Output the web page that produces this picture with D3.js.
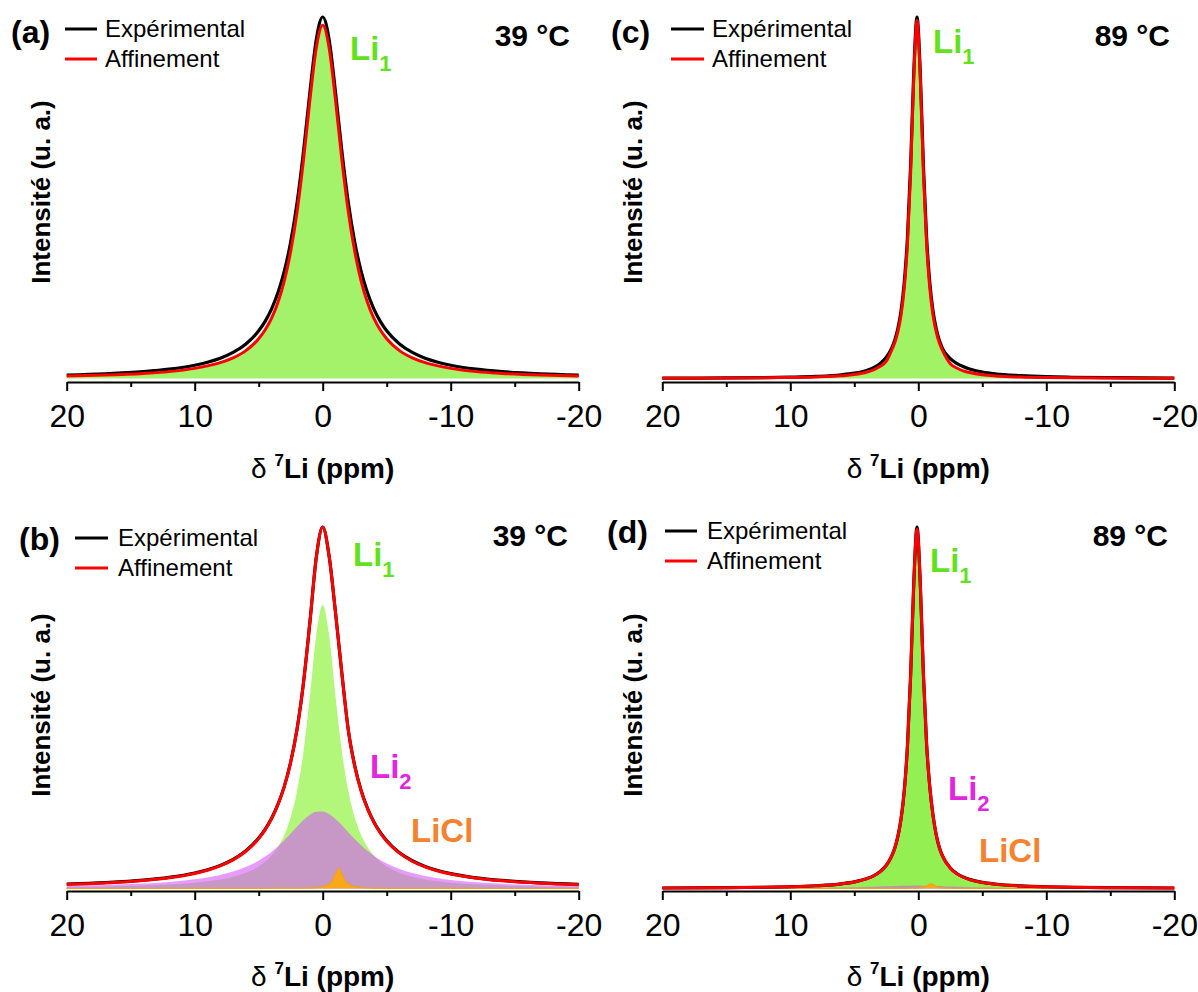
<!DOCTYPE html>
<html><head><meta charset="utf-8">
<script src="https://cdn.jsdelivr.net/npm/d3@7"></script>
<style>
body{margin:0;background:#fff}
svg{display:block}
text{font-family:"Liberation Sans",Arial,Helvetica,sans-serif}
</style>
</head><body>
<svg id="chart" width="1198" height="992"></svg>
<script>
// ---------- data (ppm, normalised intensity) ----------
const xTicks = [20, 10, 0, -10, -20];
const xMinorTicks = [15, 5, -5, -15];
const legendLabels = ["Expérimental", "Affinement"];
const panelLetters = ["(a)", "(b)", "(c)", "(d)"];
const temperatures = ["39 °C", "39 °C", "89 °C", "89 °C"];

// grid for the broad 39 °C spectra
const gridWide = [20,17,14,12,10,9,8,7,6,5,4.5,4,3.5,3,2.5,2,1.5,1,0.5,0,-0.5,-1,-1.5,-2,-2.5,-3,-3.5,-4,-4.5,-5,-6,-7,-8,-9,-10,-12,-14,-17,-20];
// grid for the narrow 89 °C spectra
const gridNarrow = [20,15,12,10,8,6,5,4,3.5,3,2.5,2.1,1.85,1.6,1.35,1.1,0.85,0.6,0.35,0.1,-0.15,-0.4,-0.65,-0.9,-1.15,-1.4,-1.65,-1.9,-2.5,-3,-3.5,-4,-5,-6,-8,-10,-12,-15,-20];
// grid for the LiCl line
const gridLiCl = [20,10,5,2,1,0.5,0,-0.25,-0.5,-0.75,-1,-1.25,-1.5,-1.75,-2,-2.25,-2.5,-3,-4,-6,-10,-20];

// (a) 39 °C, one component
const aExp = [0.0094,0.0130,0.0190,0.0257,0.0366,0.0449,0.056,0.072,0.0955,0.132,0.158,0.192,0.237,0.297,0.378,0.487,0.628,0.792,0.938,1.0,0.938,0.792,0.628,0.487,0.378,0.297,0.237,0.192,0.158,0.132,0.0955,0.072,0.056,0.0449,0.0366,0.0257,0.019,0.013,0.0094];
const aFit = [0.007,0.0095,0.014,0.019,0.028,0.035,0.044,0.057,0.077,0.11,0.134,0.166,0.21,0.27,0.352,0.462,0.605,0.77,0.915,0.977,0.915,0.77,0.605,0.462,0.352,0.27,0.21,0.166,0.134,0.11,0.077,0.057,0.044,0.035,0.028,0.019,0.014,0.0095,0.007];

// (b) 39 °C, three components
const bExp = [0.0125,0.0165,0.0232,0.0308,0.0430,0.0520,0.0640,0.0805,0.1045,0.1395,0.1635,0.1935,0.2325,0.2825,0.3500,0.4420,0.5696,0.7366,0.9163,1.0,0.9196,0.7639,0.5943,0.4385,0.3400,0.2715,0.2220,0.1840,0.1550,0.1320,0.0990,0.0768,0.0610,0.0496,0.0412,0.0296,0.0224,0.0158,0.0118];
const bFit = [0.0110,0.0151,0.0219,0.0296,0.0417,0.0506,0.0626,0.0792,0.1030,0.1380,0.1622,0.1925,0.2317,0.2818,0.3497,0.4420,0.5696,0.7366,0.9163,1.0,0.9196,0.7639,0.5943,0.4382,0.3392,0.2704,0.2208,0.1828,0.1536,0.1307,0.0977,0.0754,0.0597,0.0483,0.0399,0.0284,0.0212,0.0147,0.0107];
const bLi1 = [0.0041,0.0057,0.0083,0.0113,0.0161,0.0198,0.0249,0.0323,0.0433,0.0608,0.0737,0.091,0.115,0.148,0.197,0.270,0.379,0.531,0.701,0.784,0.701,0.531,0.379,0.270,0.197,0.148,0.115,0.091,0.0737,0.0608,0.0433,0.0323,0.0249,0.0198,0.0161,0.0113,0.0083,0.0057,0.0041];
const bLi2 = [0.0069,0.0094,0.0136,0.0182,0.0255,0.0307,0.0376,0.0468,0.0595,0.0770,0.0882,0.1012,0.1163,0.1333,0.1520,0.1712,0.1894,0.2039,0.2125,0.2133,0.2062,0.1926,0.1750,0.1558,0.1370,0.1196,0.1041,0.0906,0.0791,0.0693,0.0540,0.0428,0.0346,0.0284,0.0237,0.0171,0.0129,0.0090,0.0066];
const bLiCl = [0,0.0001,0.0002,0.0008,0.0017,0.0028,0.0052,0.0077,0.0124,0.0219,0.0403,0.056,0.0403,0.0219,0.0124,0.0077,0.0052,0.0028,0.0012,0.0004,0.0001,0];

// (c) 89 °C, one component
const cExp = [0.0009,0.0016,0.0025,0.0037,0.0057,0.0102,0.0148,0.0231,0.0302,0.0410,0.0588,0.0826,0.105,0.138,0.187,0.265,0.390,0.590,0.852,1.0,0.852,0.590,0.390,0.265,0.187,0.138,0.105,0.0826,0.055,0.042,0.033,0.026,0.018,0.013,0.008,0.005,0.0035,0.0022,0.0012];
const cFit = [0.0007,0.0012,0.0018,0.0027,0.0042,0.0075,0.011,0.018,0.024,0.033,0.048,0.0768,0.098,0.129,0.175,0.249,0.3705,0.568,0.835,0.99,0.835,0.568,0.3705,0.249,0.175,0.129,0.098,0.0768,0.041,0.029,0.021,0.0165,0.0105,0.0072,0.0041,0.0026,0.0018,0.0012,0.0007];

// (d) 89 °C, three components
const dExp = [0.0014,0.0023,0.0035,0.0049,0.0076,0.0130,0.0183,0.0274,0.0349,0.0463,0.0644,0.0884,0.1104,0.1437,0.1920,0.2692,0.3925,0.5898,0.849,1.0,0.849,0.5923,0.3984,0.2806,0.2025,0.1488,0.1128,0.0898,0.0565,0.0414,0.0316,0.0252,0.0171,0.0125,0.0073,0.0049,0.0035,0.0023,0.0014];
const dFit = [0.0012,0.0021,0.0033,0.0047,0.0073,0.0127,0.0180,0.0271,0.0346,0.0460,0.0641,0.0881,0.1101,0.1434,0.1918,0.2690,0.3923,0.5896,0.848,0.994,0.8488,0.5921,0.3982,0.2804,0.2022,0.1485,0.1125,0.0894,0.0560,0.0409,0.0311,0.0247,0.0166,0.0120,0.0069,0.0046,0.0032,0.0021,0.0012];
const dLi1 = [0.0009,0.0016,0.0025,0.0036,0.0056,0.0100,0.0146,0.0228,0.0297,0.0404,0.0579,0.0814,0.103,0.136,0.184,0.261,0.384,0.581,0.839,0.985,0.839,0.581,0.384,0.261,0.184,0.136,0.103,0.0814,0.0498,0.0356,0.0266,0.0207,0.0135,0.0095,0.0054,0.0035,0.0024,0.0016,0.0009];
const dLi2 = [0.0003,0.0005,0.0008,0.0011,0.0017,0.0026,0.0033,0.0042,0.0048,0.0054,0.0060,0.0065,0.0068,0.0071,0.0074,0.0076,0.0078,0.0079,0.0080,0.0080,0.0079,0.0078,0.0077,0.0074,0.0072,0.0069,0.0066,0.0063,0.0055,0.0049,0.0043,0.0038,0.0030,0.0024,0.0015,0.0011,0.0008,0.0005,0.0003];
const dLiCl = [0,0,0.0001,0.0002,0.0004,0.0007,0.0014,0.0023,0.0043,0.0087,0.013,0.0087,0.0043,0.0023,0.0014,0.0009,0.0007,0.0004,0.0002,0.0001,0,0];

// ---------- drawing ----------
const svg = d3.select("#chart");
const FONT = '"Liberation Sans",Arial,Helvetica,sans-serif';
const C_LI1_LABEL = "#62e21c", C_LI2_LABEL = "#e226e0", C_LICL_LABEL = "#f5822f";
const C_LI2_FILL = "rgb(214,80,255)";

const zip = (xs, ys) => xs.map((v, i) => [v, ys[i]]);

const panels = [
  { letter: panelLetters[0], temp: temperatures[0], x0: 66.7, x1: 578.7, axisY: 382, zeroY: 378.5, oneY: 17,
    exp: zip(gridWide, aExp), fit: zip(gridWide, aFit),
    fills: [{ d: zip(gridWide, aFit), color: "#a4f26a", op: 1 }],
    letterPos: [11, 43], legend: { lx: 65, lx2: 97, ly: 29, tx: 105, dy: 30 }, tempPos: [570, 46],
    labels: [{ t: "Li", s: "1", x: 350, y: 60, c: C_LI1_LABEL }],
    yLab: [50, 192], xTitleY: 478 },
  { letter: panelLetters[1], temp: temperatures[1], x0: 66.7, x1: 578.7, axisY: 891, zeroY: 888.5, oneY: 527,
    exp: zip(gridWide, bExp), fit: zip(gridWide, bFit),
    fills: [
      { d: zip(gridWide, bLi1), color: "#b3f77a", op: 1 },
      { d: zip(gridWide, bLi2), color: C_LI2_FILL, op: 0.57 },
      { d: zip(gridLiCl, bLiCl), color: "#f9a81a", op: 1, stroke: "#f0a020" }],
    letterPos: [19, 550], legend: { lx: 75, lx2: 108, ly: 538, tx: 118, dy: 30 }, tempPos: [568, 546],
    labels: [{ t: "Li", s: "1", x: 353, y: 566, c: C_LI1_LABEL },
             { t: "Li", s: "2", x: 370, y: 778, c: C_LI2_LABEL },
             { t: "LiCl", s: "", x: 411, y: 842, c: C_LICL_LABEL }],
    yLab: [50, 705], xTitleY: 986 },
  { letter: panelLetters[2], temp: temperatures[2], x0: 662.3, x1: 1174.3, axisY: 382, zeroY: 378.5, oneY: 17,
    exp: zip(gridNarrow, cExp), fit: zip(gridNarrow, cFit),
    fills: [{ d: zip(gridNarrow, cFit), color: "#a2f266", op: 1 }],
    letterPos: [611, 43], legend: { lx: 671, lx2: 704, ly: 29, tx: 712, dy: 30 }, tempPos: [1170, 46],
    labels: [{ t: "Li", s: "1", x: 933, y: 53, c: C_LI1_LABEL }],
    yLab: [642, 192], xTitleY: 478 },
  { letter: panelLetters[3], temp: temperatures[3], x0: 662.3, x1: 1174.3, axisY: 891, zeroY: 888.5, oneY: 527,
    exp: zip(gridNarrow, dExp), fit: zip(gridNarrow, dFit),
    fills: [
      { d: zip(gridNarrow, dLi1), color: "#93ef52", op: 1 },
      { d: zip(gridNarrow, dLi2), color: C_LI2_FILL, op: 0.57 },
      { d: zip(gridLiCl, dLiCl), color: "#f9a81a", op: 1, stroke: "#f0a020" }],
    letterPos: [607, 543], legend: { lx: 665, lx2: 697, ly: 531, tx: 707, dy: 30 }, tempPos: [1168, 546],
    labels: [{ t: "Li", s: "1", x: 930, y: 572, c: C_LI1_LABEL },
             { t: "Li", s: "2", x: 948, y: 800, c: C_LI2_LABEL },
             { t: "LiCl", s: "", x: 979, y: 862, c: C_LICL_LABEL }],
    yLab: [642, 705], xTitleY: 986 }
];

panels.forEach(p => {
  const x = d3.scaleLinear().domain([20, -20]).range([p.x0, p.x1]);
  const y = d3.scaleLinear().domain([0, 1]).range([p.zeroY, p.oneY]);
  const g = svg.append("g");

  const area = d3.area().x(d => x(d[0])).y0(y(0)).y1(d => y(d[1])).curve(d3.curveMonotoneX);
  const line = d3.line().x(d => x(d[0])).y(d => y(d[1])).curve(d3.curveMonotoneX);

  p.fills.forEach(f => {
    g.append("path").datum(f.d).attr("d", area)
      .attr("fill", f.color).attr("fill-opacity", f.op);
    if (f.stroke) g.append("path").datum(f.d).attr("d", line)
      .attr("fill", "none").attr("stroke", f.stroke).attr("stroke-width", 1.2);
  });

  g.append("path").datum(p.exp).attr("d", line)
    .attr("fill", "none").attr("stroke", "#000").attr("stroke-width", 3.2).attr("stroke-linejoin", "round");
  g.append("path").datum(p.fit).attr("d", line)
    .attr("fill", "none").attr("stroke", "#ff0000").attr("stroke-width", 3).attr("stroke-linejoin", "round");

  // axis
  const ax = g.append("g").attr("transform", `translate(0,${p.axisY})`)
    .call(d3.axisBottom(x).tickValues(xTicks).tickSize(9).tickSizeOuter(0).tickPadding(13)
      .tickFormat(d => String(d)));
  ax.select(".domain").attr("stroke", "#000").attr("stroke-width", 2);
  ax.selectAll(".tick line").attr("stroke", "#000").attr("stroke-width", 2);
  ax.selectAll(".tick text").attr("font-family", FONT).attr("font-size", 32).attr("fill", "#000");
  const axm = g.append("g").attr("transform", `translate(0,${p.axisY})`)
    .call(d3.axisBottom(x).tickValues(xMinorTicks).tickSize(5).tickSizeOuter(0).tickFormat(""));
  axm.select(".domain").remove();
  axm.selectAll(".tick line").attr("stroke", "#000").attr("stroke-width", 2);

  // x title
  const xt = g.append("text").attr("x", x(0)).attr("y", p.xTitleY).attr("text-anchor", "middle")
    .attr("font-size", 28).attr("font-weight", "bold").attr("fill", "#000");
  xt.append("tspan").attr("font-weight", "normal").text("δ ");
  xt.append("tspan").attr("font-size", 17).attr("dy", -12).text("7");
  xt.append("tspan").attr("dy", 12).text("Li (ppm)");

  // y title
  g.append("text").attr("transform", `translate(${p.yLab[0]},${p.yLab[1]}) rotate(-90)`)
    .attr("text-anchor", "middle").attr("font-size", 26).attr("font-weight", "bold").attr("fill", "#000")
    .text("Intensité (u. a.)");

  // panel letter & temperature
  g.append("text").attr("x", p.letterPos[0]).attr("y", p.letterPos[1])
    .attr("font-size", 32).attr("font-weight", "bold").attr("fill", "#000").text(p.letter);
  g.append("text").attr("x", p.tempPos[0]).attr("y", p.tempPos[1]).attr("text-anchor", "end")
    .attr("font-size", 30).attr("font-weight", "bold").attr("fill", "#000").text(p.temp);

  // legend
  const L = p.legend;
  [["#000", legendLabels[0]], ["#ff0000", legendLabels[1]]].forEach(([col, lab], i) => {
    const yy = L.ly + i * L.dy;
    g.append("line").attr("x1", L.lx).attr("x2", L.lx2).attr("y1", yy).attr("y2", yy)
      .attr("stroke", col).attr("stroke-width", 3);
    g.append("text").attr("x", L.tx).attr("y", yy + 8).attr("font-size", 24).attr("fill", "#000").text(lab);
  });

  // component labels
  p.labels.forEach(l => {
    const t = g.append("text").attr("x", l.x).attr("y", l.y).attr("font-size", 33)
      .attr("font-weight", "bold").attr("fill", l.c);
    t.append("tspan").text(l.t);
    if (l.s) t.append("tspan").attr("font-size", 22).attr("dy", 11).text(l.s);
  });
});
</script>
</body></html>
